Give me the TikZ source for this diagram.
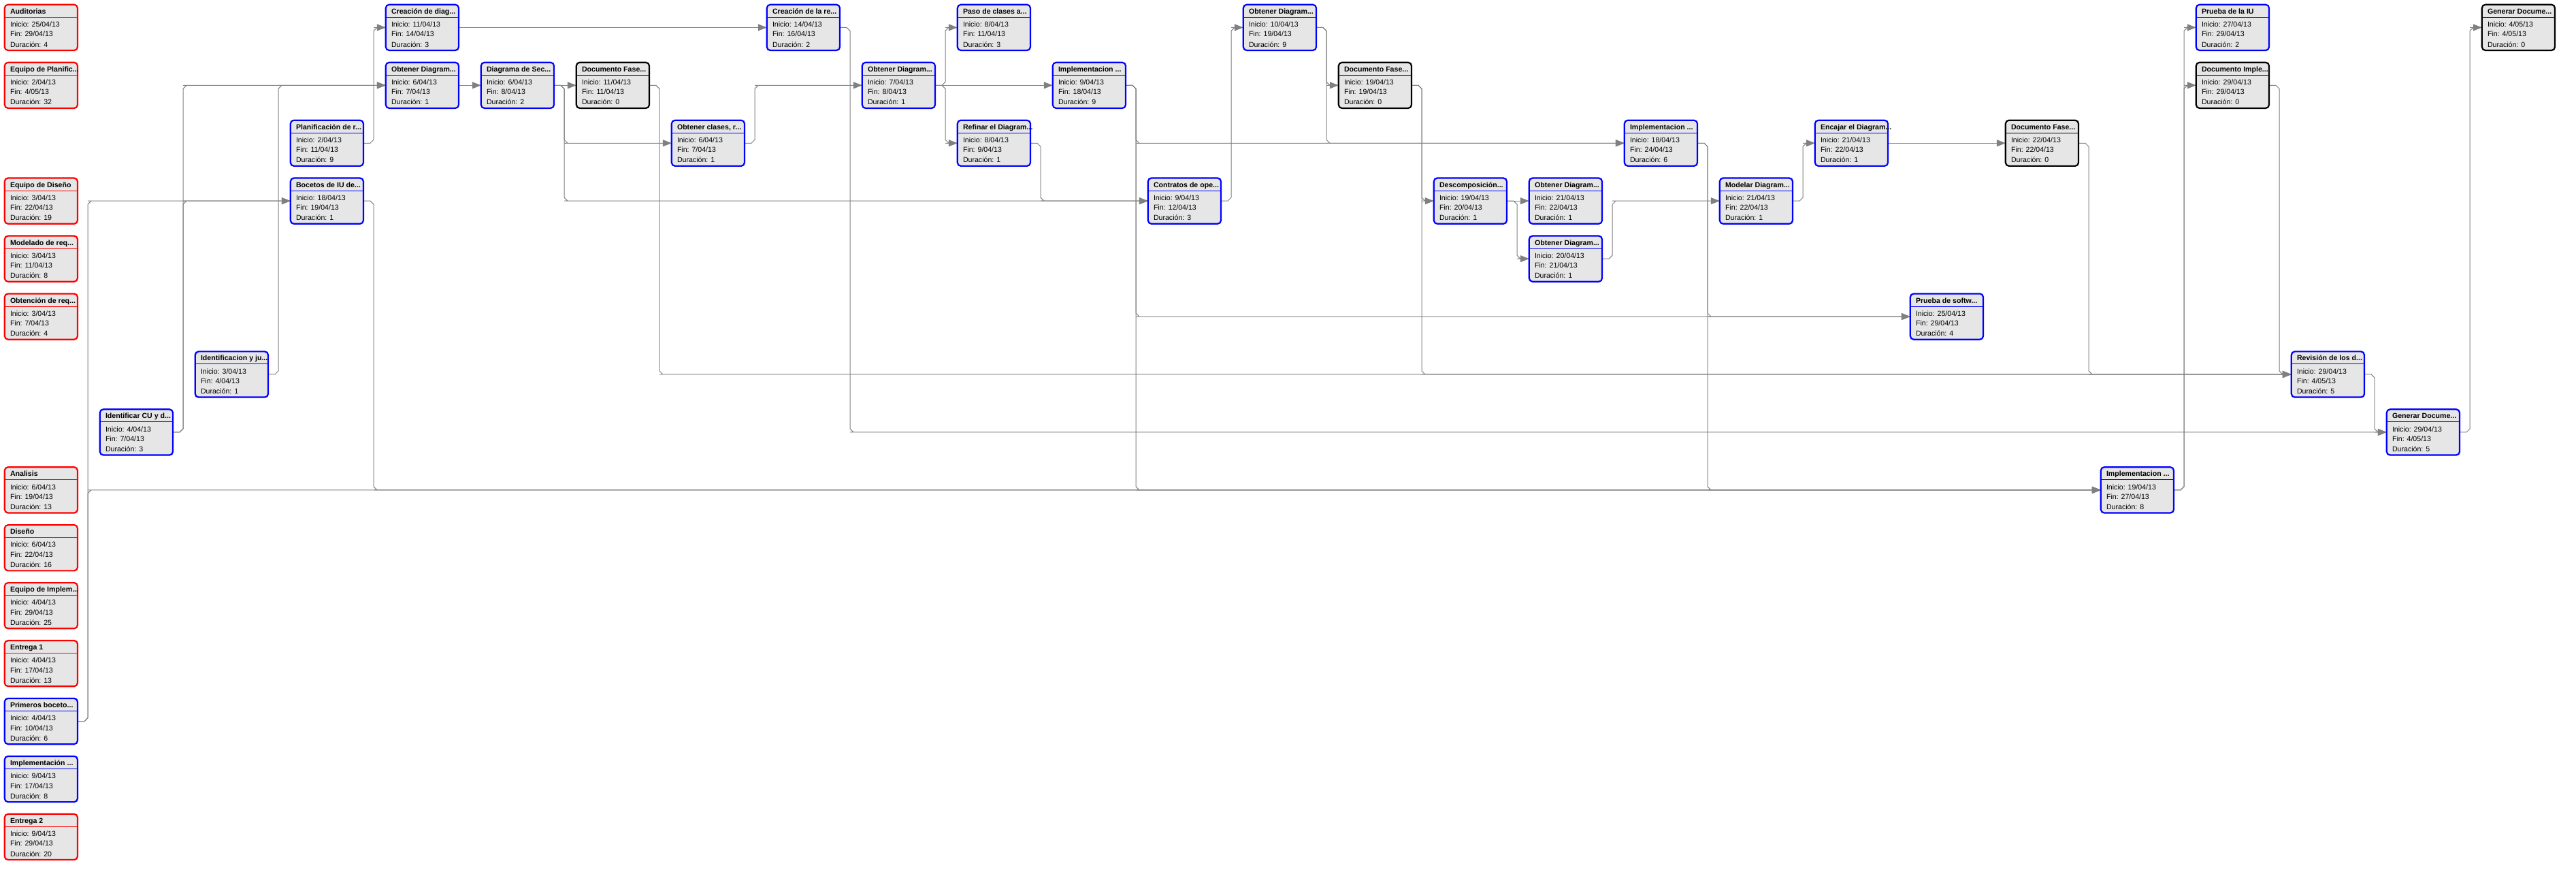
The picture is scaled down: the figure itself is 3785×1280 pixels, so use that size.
\documentclass[tikz,border=0pt]{standalone}
\usepackage{fontspec}
\setmainfont{Liberation Sans}
\usetikzlibrary{arrows.meta,calc,backgrounds}

\definecolor{boxfill}{RGB}{230,230,230}
\definecolor{linegray}{RGB}{128,128,128}
\definecolor{tred}{RGB}{255,0,0}
\definecolor{tblue}{RGB}{0,0,255}

\tikzset{
  tbox/.style={rectangle, rounded corners=5pt, minimum width=107.2pt, minimum height=67.2pt,
    inner sep=0pt, outer sep=0pt, fill=boxfill, line width=2.2pt},
  ttitle/.style={inner sep=0pt, anchor=base west, font=\fontsize{10.6}{12}\selectfont\bfseries},
  tbody/.style={inner sep=0pt, anchor=base west, font=\fontsize{10.6}{12}\selectfont},
  conn/.style={draw=linegray, line width=1pt},
  tip/.style={-{Triangle[length=13pt,width=10pt]}}
}

% task box: name, column, row, border colour, title, start, end, duration
\newcommand{\tarea}[8]{%
  \node[tbox, draw=#4] (#1) at ({60.4+140*#2},{40.4+84.93*#3}) {};
  \draw[#4, line width=0.9pt] ([yshift=-18.5pt]#1.north west) -- ([yshift=-18.5pt]#1.north east);
  \node[ttitle] (#1-t) at ([xshift=8pt,yshift=-13.6pt]#1.north west) {#5};
  \node[tbody] (#1-i) at ([xshift=8pt,yshift=-32.8pt]#1.north west) {Inicio: #6};
  \node[tbody] (#1-f) at ([xshift=8pt,yshift=-47.1pt]#1.north west) {Fin: #7};
  \node[tbody] (#1-d) at ([xshift=8pt,yshift=-62.2pt]#1.north west) {Duración: #8};
}

% dependency routed through the channel right of the predecessor, chamfered corners
\newcommand{\enlace}[2]{%
  \draw[conn, tip] let \p1=(#1.east), \p2=(#2.west), \n1={5*sign(\y2-(\y1))} in
    (\p1) -- (\x1+10pt,\y1) -- (\x1+15pt,\y1+\n1) -- (\x1+15pt,\y2-\n1) -- (\x1+20pt,\y2) -- (\p2)
    (\x1+15pt,\y2) -- (\p2);
}
% dependency between boxes of the same row
\newcommand{\recta}[2]{\draw[conn, tip] (#1.east) -- (#2.west);}

\begin{document}
\begin{tikzpicture}[x=1pt,y=-1pt]
\useasboundingbox (0,0) rectangle (3785,1280);

% summary tasks and first column
\tarea{aud}{0}{0}{tred}{Auditorias}{25/04/13}{29/04/13}{4}
\tarea{eqpl}{0}{1}{tred}{Equipo de Planific...}{2/04/13}{4/05/13}{32}
\tarea{eqdi}{0}{3}{tred}{Equipo de Diseño}{3/04/13}{22/04/13}{19}
\tarea{modr}{0}{4}{tred}{Modelado de req...}{3/04/13}{11/04/13}{8}
\tarea{obtr}{0}{5}{tred}{Obtención de req...}{3/04/13}{7/04/13}{4}
\tarea{anal}{0}{8}{tred}{Analisis}{6/04/13}{19/04/13}{13}
\tarea{dise}{0}{9}{tred}{Diseño}{6/04/13}{22/04/13}{16}
\tarea{eqim}{0}{10}{tred}{Equipo de Implem...}{4/04/13}{29/04/13}{25}
\tarea{ent1}{0}{11}{tred}{Entrega 1}{4/04/13}{17/04/13}{13}
\tarea{prim}{0}{12}{tblue}{Primeros boceto...}{4/04/13}{10/04/13}{6}
\tarea{impa}{0}{13}{tblue}{Implementación ...}{9/04/13}{17/04/13}{8}
\tarea{ent2}{0}{14}{tred}{Entrega 2}{9/04/13}{29/04/13}{20}

% tasks and milestones
\tarea{idcu}{1}{7}{tblue}{Identificar CU y d...}{4/04/13}{7/04/13}{3}
\tarea{idju}{2}{6}{tblue}{Identificacion y ju...}{3/04/13}{4/04/13}{1}
\tarea{plan}{3}{2}{tblue}{Planificación de r...}{2/04/13}{11/04/13}{9}
\tarea{boc}{3}{3}{tblue}{Bocetos de IU de...}{18/04/13}{19/04/13}{1}
\tarea{crdi}{4}{0}{tblue}{Creación de diag...}{11/04/13}{14/04/13}{3}
\tarea{obca}{4}{1}{tblue}{Obtener Diagram...}{6/04/13}{7/04/13}{1}
\tarea{dsec}{5}{1}{tblue}{Diagrama de Sec...}{6/04/13}{8/04/13}{2}
\tarea{doca}{6}{1}{black}{Documento Fase...}{11/04/13}{11/04/13}{0}
\tarea{obcl}{7}{2}{tblue}{Obtener clases, r...}{6/04/13}{7/04/13}{1}
\tarea{crre}{8}{0}{tblue}{Creación de la re...}{14/04/13}{16/04/13}{2}
\tarea{obcb}{9}{1}{tblue}{Obtener Diagram...}{7/04/13}{8/04/13}{1}
\tarea{paso}{10}{0}{tblue}{Paso de clases a...}{8/04/13}{11/04/13}{3}
\tarea{refi}{10}{2}{tblue}{Refinar el Diagram...}{8/04/13}{9/04/13}{1}
\tarea{impb}{11}{1}{tblue}{Implementacion ...}{9/04/13}{18/04/13}{9}
\tarea{cont}{12}{3}{tblue}{Contratos de ope...}{9/04/13}{12/04/13}{3}
\tarea{obcc}{13}{0}{tblue}{Obtener Diagram...}{10/04/13}{19/04/13}{9}
\tarea{docb}{14}{1}{black}{Documento Fase...}{19/04/13}{19/04/13}{0}
\tarea{desc}{15}{3}{tblue}{Descomposición...}{19/04/13}{20/04/13}{1}
\tarea{obcd}{16}{3}{tblue}{Obtener Diagram...}{21/04/13}{22/04/13}{1}
\tarea{obce}{16}{4}{tblue}{Obtener Diagram...}{20/04/13}{21/04/13}{1}
\tarea{impc}{17}{2}{tblue}{Implementacion ...}{18/04/13}{24/04/13}{6}
\tarea{mode}{18}{3}{tblue}{Modelar Diagram...}{21/04/13}{22/04/13}{1}
\tarea{enca}{19}{2}{tblue}{Encajar el Diagram...}{21/04/13}{22/04/13}{1}
\tarea{prsw}{20}{5}{tblue}{Prueba de softw...}{25/04/13}{29/04/13}{4}
\tarea{docc}{21}{2}{black}{Documento Fase...}{22/04/13}{22/04/13}{0}
\tarea{impd}{22}{8}{tblue}{Implementacion ...}{19/04/13}{27/04/13}{8}
\tarea{priu}{23}{0}{tblue}{Prueba de la IU}{27/04/13}{29/04/13}{2}
\tarea{docd}{23}{1}{black}{Documento Imple...}{29/04/13}{29/04/13}{0}
\tarea{revi}{24}{6}{tblue}{Revisión de los d...}{29/04/13}{4/05/13}{5}
\tarea{gena}{25}{7}{tblue}{Generar Docume...}{29/04/13}{4/05/13}{5}
\tarea{genb}{26}{0}{black}{Generar Docume...}{4/05/13}{4/05/13}{0}

\begin{pgfonlayer}{background}
  \fill[white] (0,0) rectangle (3785,1280);
  \enlace{prim}{boc}
  \enlace{prim}{impd}
  \enlace{idcu}{obca}
  \enlace{idcu}{boc}
  \enlace{idju}{obca}
  \enlace{plan}{crdi}
  \enlace{boc}{impd}
  \recta{crdi}{crre}
  \recta{obca}{dsec}
  \recta{dsec}{doca}
  \enlace{dsec}{obcl}
  \enlace{dsec}{cont}
  \enlace{doca}{revi}
  \enlace{obcl}{obcb}
  \enlace{crre}{gena}
  \enlace{obcb}{paso}
  \enlace{obcb}{refi}
  \recta{obcb}{impb}
  \enlace{refi}{cont}
  \enlace{impb}{impc}
  \enlace{impb}{prsw}
  \enlace{impb}{impd}
  \enlace{cont}{obcc}
  \enlace{obcc}{docb}
  \enlace{obcc}{impc}
  \enlace{docb}{desc}
  \enlace{docb}{revi}
  \enlace{desc}{obcd}
  \enlace{desc}{obce}
  \enlace{obce}{mode}
  \enlace{impc}{prsw}
  \enlace{impc}{impd}
  \enlace{mode}{enca}
  \recta{enca}{docc}
  \enlace{docc}{revi}
  \enlace{impd}{priu}
  \enlace{impd}{docd}
  \enlace{docd}{revi}
  \enlace{revi}{gena}
  \enlace{gena}{genb}
\end{pgfonlayer}
\end{tikzpicture}
\end{document}
